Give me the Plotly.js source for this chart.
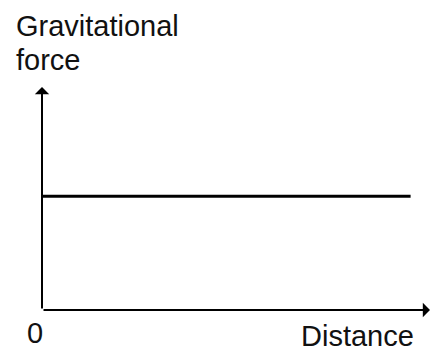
<!DOCTYPE html>
<html>
<head>
<meta charset="utf-8">
<script src="https://cdn.plot.ly/plotly-3.0.1.min.js"></script>
<style>html,body{margin:0;padding:0;background:#fff;}#chart{width:432px;height:354px;}</style>
</head>
<body>
<div id="chart"></div>
<script>
// Data: gravitational force constant with distance
const distance = [0, 9.5];
const force = [5.1, 5.1];
const yLabelLines = ["Gravitational", "force"];
const xLabel = "Distance";
const originLabel = "0";
const axisMax = 10;

const W = 432, H = 354;
const px = v => v / W;
const py = v => 1 - v / H;
const font = {family: "Liberation Sans, Arial, sans-serif", size: 29, color: "#111"};

const trace = {
  x: distance, y: force, mode: "lines", type: "scatter",
  line: {color: "#000", width: 3}, cliponaxis: false, hoverinfo: "skip"
};

const layout = {
  width: W, height: H,
  margin: {l: 0, r: 0, t: 0, b: 0, autoexpand: false},
  paper_bgcolor: "#fff", plot_bgcolor: "#fff",
  showlegend: false,
  xaxis: {domain: [px(42), px(430)], range: [0, axisMax], showgrid: false, zeroline: false,
          showticklabels: false, ticks: "", showline: false},
  yaxis: {domain: [py(310), py(87)], range: [0, axisMax], showgrid: false, zeroline: false,
          showticklabels: false, ticks: "", showline: false},
  annotations: [
    {x: axisMax, y: 0, ax: 0, ay: 0, xref: "x", yref: "y", axref: "x", ayref: "y",
     showarrow: true, arrowhead: 1, arrowsize: 1.2, arrowwidth: 2, arrowcolor: "#000", text: ""},
    {x: 0, y: axisMax, ax: 0, ay: 0, xref: "x", yref: "y", axref: "x", ayref: "y",
     showarrow: true, arrowhead: 1, arrowsize: 1.2, arrowwidth: 2, arrowcolor: "#000", text: ""},
    {text: yLabelLines[0], x: px(14), y: py(26), xref: "paper", yref: "paper",
     xanchor: "left", yanchor: "middle", showarrow: false, font: font},
    {text: yLabelLines[1], x: px(14), y: py(60), xref: "paper", yref: "paper",
     xanchor: "left", yanchor: "middle", showarrow: false, font: font},
    {text: originLabel, x: px(34.5), y: py(333), xref: "paper", yref: "paper",
     xanchor: "center", yanchor: "middle", showarrow: false, font: font},
    {text: xLabel, x: px(416), y: py(336), xref: "paper", yref: "paper",
     xanchor: "right", yanchor: "middle", showarrow: false, font: font}
  ]
};

Plotly.newPlot("chart", [trace], layout, {displayModeBar: false, staticPlot: true});
</script>
</body>
</html>
